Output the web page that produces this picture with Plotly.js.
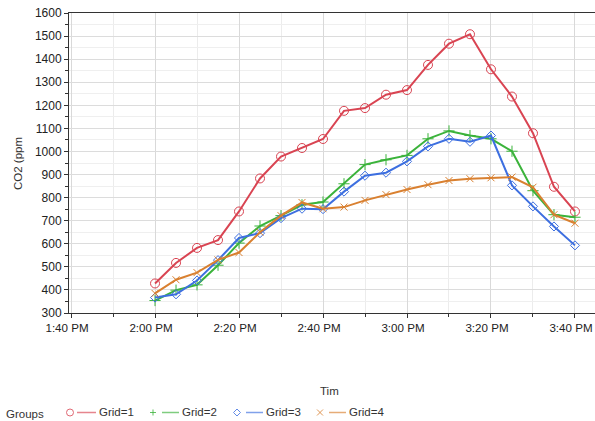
<!DOCTYPE html>
<html>
<head>
<meta charset="utf-8">
<script src="https://cdn.plot.ly/plotly-3.0.1.min.js"></script>
<style>html,body{margin:0;padding:0;background:#fff;}#chart{width:595px;height:421px;}</style>
</head>
<body>
<div id="chart"></div>
<script>
// ---- data ----
const times = ["14:00","14:05","14:10","14:15","14:20","14:25","14:30","14:35","14:40","14:45","14:50",
               "14:55","15:00","15:05","15:10","15:15","15:20","15:25","15:30","15:35","15:40"];
const grid1 = [428,517,582,616,740,883,978,1015,1054,1176,1188,1246,1266,1375,1467,1508,1356,1238,1079,847,740];
const grid2 = [354,399,422,507,603,677,722,769,781,860,943,964,983,1055,1089,1069,1055,1001,830,726,715];
const grid3 = [367,381,441,529,625,646,711,752,750,826,895,908,957,1022,1055,1042,1069,853,762,675,593];
const grid4 = [385,444,475,530,562,650,722,779,752,759,788,813,835,856,874,882,886,889,845,726,689];
const seriesNames = ["Grid=1","Grid=2","Grid=3","Grid=4"];
const yTitle = "CO2 (ppm";
const xTitle = "Tim";
const legendTitle = "Groups";

// ---- styling ----
const colors = ["#d94452","#3bb33b","#3d6fe0","#d98030"];
const symbols = ["circle-open","cross-thin-open","diamond-open","x-thin-open"];
const msizes = [9,8,7,7];
const day = "2024-01-01 ";
const xs = times.map(t => day + t);

const L = 69, T = 13, PW = 526, PH = 300;
const px = x => (x - L) / PW;
const py = y => (T + PH - y) / PH;

const data = [grid1, grid2, grid3, grid4].map((arr, i) => ({
  type: "scatter", mode: "lines+markers", x: xs, y: arr, name: seriesNames[i],
  line: {color: colors[i], width: 2},
  marker: {symbol: symbols[i], size: msizes[i], color: colors[i], line: {width: 1, color: colors[i]}},
  showlegend: false
}));

// custom legend
const shapes = [];
const annotations = [];
const ly = 412.5;
const legendItems = [
  {mx: 70, l0: 77, l1: 96, tx: 97},
  {mx: 153, l0: 162, l1: 179, tx: 180},
  {mx: 237, l0: 246, l1: 263, tx: 264},
  {mx: 320, l0: 329, l1: 346, tx: 347}
];
const ff = "Liberation Sans, Arial, sans-serif";
legendItems.forEach((it, i) => {
  const c = colors[i];
  shapes.push({type: "line", xref: "paper", yref: "paper", x0: px(it.l0), x1: px(it.l1), y0: py(ly), y1: py(ly),
    line: {color: c, width: 1.5}, opacity: 0.65});
  const r = 3.5;
  if (i === 0) {
    shapes.push({type: "circle", xref: "paper", yref: "paper", x0: px(it.mx - r), x1: px(it.mx + r), y0: py(ly + r), y1: py(ly - r),
      line: {color: c, width: 1}, opacity: 0.8});
  } else if (i === 1) {
    shapes.push({type: "line", xref: "paper", yref: "paper", x0: px(it.mx - 3), x1: px(it.mx + 3), y0: py(ly), y1: py(ly), line: {color: c, width: 1}, opacity: 0.8});
    shapes.push({type: "line", xref: "paper", yref: "paper", x0: px(it.mx), x1: px(it.mx), y0: py(ly - 3), y1: py(ly + 3), line: {color: c, width: 1}, opacity: 0.8});
  } else if (i === 2) {
    const p = `M ${px(it.mx - 3.5)},${py(ly)} L ${px(it.mx)},${py(ly - 3.5)} L ${px(it.mx + 3.5)},${py(ly)} L ${px(it.mx)},${py(ly + 3.5)} Z`;
    shapes.push({type: "path", xref: "paper", yref: "paper", path: p, line: {color: c, width: 1}, opacity: 0.8});
  } else {
    shapes.push({type: "line", xref: "paper", yref: "paper", x0: px(it.mx - 3), x1: px(it.mx + 3), y0: py(ly - 3), y1: py(ly + 3), line: {color: c, width: 1}, opacity: 0.8});
    shapes.push({type: "line", xref: "paper", yref: "paper", x0: px(it.mx - 3), x1: px(it.mx + 3), y0: py(ly + 3), y1: py(ly - 3), line: {color: c, width: 1}, opacity: 0.8});
  }
  annotations.push({xref: "paper", yref: "paper", x: px(it.tx), y: py(ly), xanchor: "left", yanchor: "middle",
    text: seriesNames[i], showarrow: false, font: {family: ff, size: 11.5, color: "#333"}});
});
annotations.push({xref: "paper", yref: "paper", x: px(4), y: py(414), xanchor: "left", yanchor: "middle",
  text: legendTitle, showarrow: false, font: {family: ff, size: 11.5, color: "#333"}});
annotations.push({xref: "paper", yref: "paper", x: px(329), y: py(391), xanchor: "center", yanchor: "middle",
  text: xTitle, showarrow: false, font: {family: ff, size: 11.5, color: "#333"}});
annotations.push({xref: "paper", yref: "paper", x: px(18), y: py(164), xanchor: "center", yanchor: "middle",
  text: yTitle, textangle: -90, showarrow: false, font: {family: ff, size: 11.5, color: "#333"}});

const layout = {
  width: 595, height: 421,
  margin: {l: L, r: 0, t: T, b: 421 - T - PH, pad: 0},
  paper_bgcolor: "#fff", plot_bgcolor: "#fff",
  font: {family: ff, size: 12, color: "#222"},
  showlegend: false,
  xaxis: {
    type: "date",
    range: [day + "13:39:31", day + "15:44:46"],
    tick0: day + "13:40", dtick: 1200000,
    tickformat: "%-I:%M %p",
    ticklabeloverflow: "allow",
    ticklabelshift: -4,
    ticks: "outside", ticklen: 4, tickcolor: "#333", tickwidth: 1,
    showline: true, linecolor: "#333", linewidth: 1, mirror: true,
    showgrid: true, gridcolor: "#d9d9d9", gridwidth: 1,
    zeroline: false,
    tickfont: {size: 11.6, color: "#222"},
    minor: {dtick: 600000, tick0: day + "13:40", ticks: "outside", ticklen: 3, tickcolor: "#333", showgrid: true, gridcolor: "#ececec", gridwidth: 1}
  },
  yaxis: {
    range: [300, 1600], dtick: 100, tick0: 300,
    ticks: "outside", ticklen: 4, tickcolor: "#333", tickwidth: 1,
    showline: true, linecolor: "#333", linewidth: 1, mirror: false,
    showgrid: true, gridcolor: "#dcdcdc", gridwidth: 1,
    zeroline: false,
    tickfont: {size: 12, color: "#222"},
    minor: {dtick: 50, ticks: "outside", ticklen: 3, tickcolor: "#333", showgrid: true, gridcolor: "#efefef", gridwidth: 1}
  },
  shapes: shapes,
  annotations: annotations
};

Plotly.newPlot("chart", data, layout, {staticPlot: true, displayModeBar: false});
</script>
</body>
</html>
